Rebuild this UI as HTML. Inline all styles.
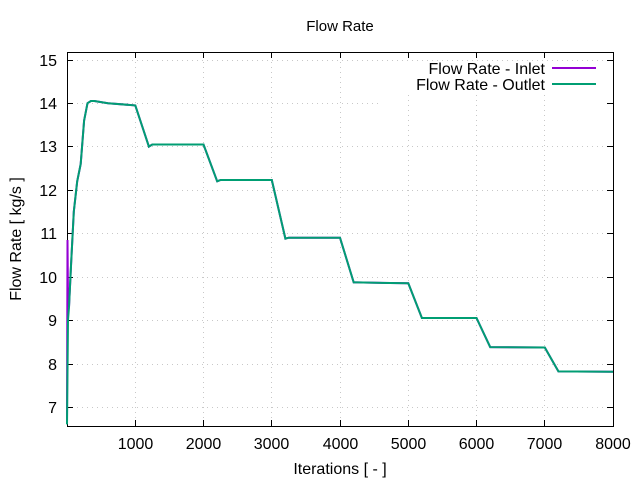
<!DOCTYPE html>
<html><head><style>body{margin:0;background:#fff}svg{display:block}text{font-family:"Liberation Sans",sans-serif;font-size:16px;fill:#000}</style></head><body>
<svg width="640" height="480" xmlns="http://www.w3.org/2000/svg">
<g stroke="#c8c8c8" stroke-width="1" stroke-dasharray="1,4">
<line x1="67" x2="613" y1="60.5" y2="60.5"/><line x1="67" x2="380" y1="103.5" y2="103.5"/><line x1="67" x2="613" y1="146.5" y2="146.5"/><line x1="67" x2="613" y1="190.5" y2="190.5"/><line x1="67" x2="613" y1="233.5" y2="233.5"/><line x1="67" x2="613" y1="277.5" y2="277.5"/><line x1="67" x2="613" y1="320.5" y2="320.5"/><line x1="67" x2="613" y1="364.5" y2="364.5"/><line x1="67" x2="613" y1="407.5" y2="407.5"/>
<line x1="135.5" x2="135.5" y1="52" y2="426"/><line x1="203.5" x2="203.5" y1="52" y2="426"/><line x1="271.5" x2="271.5" y1="52" y2="426"/><line x1="340.5" x2="340.5" y1="52" y2="426"/><line x1="408.5" x2="408.5" y1="95" y2="426"/><line x1="476.5" x2="476.5" y1="95" y2="426"/><line x1="544.5" x2="544.5" y1="95" y2="426"/>
</g>
<g stroke="#000" stroke-width="1">
<rect x="67.5" y="52.5" width="546" height="374" fill="none"/>
<path d="M67 60.5h6M67 103.5h6M67 146.5h6M67 190.5h6M67 233.5h6M67 277.5h6M67 320.5h6M67 364.5h6M67 407.5h6M613 60.5h-6M613 103.5h-6M613 146.5h-6M613 190.5h-6M613 233.5h-6M613 277.5h-6M613 320.5h-6M613 364.5h-6M613 407.5h-6M135.5 426v-6M203.5 426v-6M271.5 426v-6M340.5 426v-6M408.5 426v-6M476.5 426v-6M544.5 426v-6M135.5 52v6M203.5 52v6M271.5 52v6M340.5 52v6M408.5 52v6M476.5 52v6M544.5 52v6"/>
</g>
<g text-anchor="end"><text x="57" y="66">15</text><text x="57" y="109">14</text><text x="57" y="152">13</text><text x="57" y="196">12</text><text x="57" y="239">11</text><text x="57" y="283">10</text><text x="57" y="326">9</text><text x="57" y="370">8</text><text x="57" y="413">7</text></g>
<g text-anchor="middle"><text x="135.5" y="449">1000</text><text x="203.5" y="449">2000</text><text x="271.5" y="449">3000</text><text x="340.5" y="449">4000</text><text x="408.5" y="449">5000</text><text x="476.5" y="449">6000</text><text x="544.5" y="449">7000</text><text x="613" y="449">8000</text>
<text x="340" y="474">Iterations [ - ]</text><text x="340" y="31" style="font-size:15px">Flow Rate</text>
<text transform="translate(21,239) rotate(-90)">Flow Rate [ kg/s ]</text></g>
<g text-anchor="end"><text x="545" y="74">Flow Rate - Inlet</text><text x="545" y="90">Flow Rate - Outlet</text></g>
<line x1="552" x2="596" y1="68" y2="68" stroke="#9400d3" stroke-width="2"/>
<line x1="552" x2="596" y1="84" y2="84" stroke="#009e73" stroke-width="2"/>
<polyline fill="none" stroke="#9400d3" stroke-width="2" points="67,424 67.5,240 68,300 69,307 71.1,263.8 73.8,211.7 77.2,181.3 80.7,164 84.1,120.6 87.5,103.2 90.9,101 94.3,101 108,103.2 135.3,105.4 148.9,146.6 152.3,144.5 203.5,144.5 217.2,181.3 220.6,180 271.8,180 285.4,238.6 288.8,237.7 340,237.7 353.7,282.4 357.1,282.4 408.3,283.3 421.9,318 476.5,318 490.2,347.1 544.8,347.5 558.4,371.4 613,371.8"/>
<polyline fill="none" stroke="#009e73" stroke-width="2" points="67,424.4 68,320.2 69,307.2 71.1,263.8 73.8,211.7 77.2,181.3 80.7,164 84.1,120.6 87.5,103.2 90.9,101 94.3,101 108,103.2 135.3,105.4 148.9,146.6 152.3,144.5 203.5,144.5 217.2,181.3 220.6,180 271.8,180 285.4,238.6 288.8,237.7 340,237.7 353.7,282.4 357.1,282.4 408.3,283.3 421.9,318 476.5,318 490.2,347.1 544.8,347.5 558.4,371.4 613,371.8"/>
</svg>
</body></html>
